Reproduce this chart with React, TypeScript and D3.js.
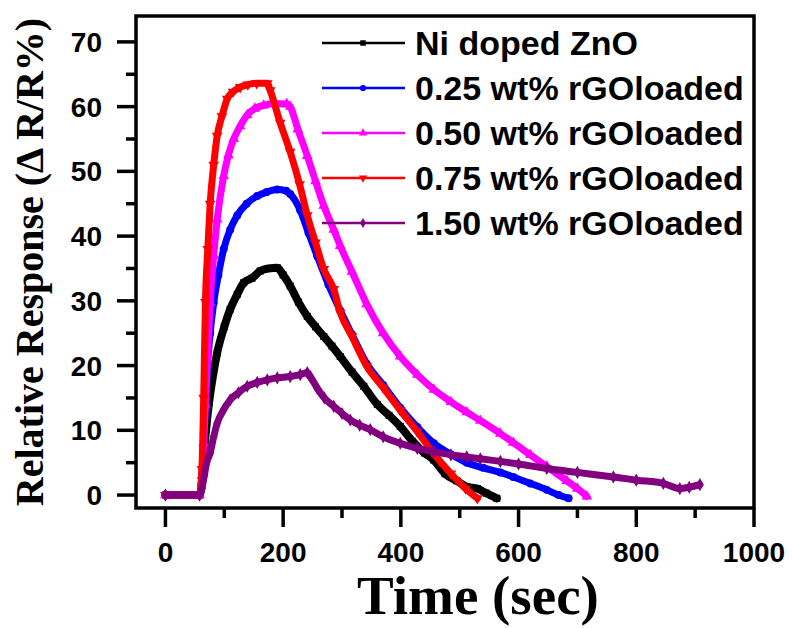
import React from "react";
import * as d3 from "d3";

const W = 793;
const H = 628;

const seriesNames = [
  "Ni doped ZnO",
  "0.25 wt% rGOloaded",
  "0.50 wt% rGOloaded",
  "0.75 wt% rGOloaded",
  "1.50 wt% rGOloaded",
];
const seriesColors = ["#000000", "#0000ff", "#ff00ff", "#ff0000", "#800080"];
const seriesMarkers = ["square", "circle", "triangleUp", "triangleDown", "diamond"];

const blackT = [0, 20, 40, 58, 62, 66, 70, 74, 80, 88, 100, 110, 122, 133, 147, 161, 175, 190, 200, 212, 226, 241, 255, 269, 283, 297, 317, 337, 360, 380, 399, 420, 440, 456, 475, 495, 512, 530, 545, 563];
const blackV = [0, 0, 0, 0, 2, 7, 11, 14.2, 18, 22, 26, 28.7, 31, 32.8, 33.5, 34.6, 35, 35.1, 34, 32.3, 29.8, 27.6, 26, 24.5, 23, 21.4, 19, 16.8, 14, 12.3, 10.6, 8.3, 6.5, 5.4, 3.3, 2.2, 1.3, 1, 0.3, -0.5];

const blueT = [0, 58, 62, 66, 71, 76, 82, 90, 99, 110, 122, 138, 156, 172, 190, 205, 212, 229, 243, 258, 277, 297, 317, 342, 370, 399, 428, 456, 485, 512, 540, 569, 591, 620, 648, 668, 685];
const blueV = [0, 0, 3, 10, 19.4, 25, 29.7, 34, 38, 41, 43.2, 45, 46.2, 46.8, 47.2, 47, 46.5, 44, 40.5, 36.9, 32.5, 28.5, 24.8, 20.3, 17, 13.5, 10.5, 8, 6.3, 5, 4.2, 3.5, 2.8, 1.8, 0.8, 0, -0.5];

const magentaT = [0, 58, 62, 65, 68, 72, 76, 82, 88, 99, 107, 116, 127, 139, 152, 167, 185, 206, 212, 225, 241, 255, 269, 286, 297, 317, 342, 370, 399, 428, 456, 485, 512, 535, 569, 591, 620, 648, 682, 700, 716];
const magentaV = [0, 0, 3, 8, 14, 22, 29.7, 37, 42.6, 49.3, 52.5, 55, 57, 58.7, 59.7, 60.2, 60.5, 60.4, 60, 56.5, 52.4, 48.5, 44.7, 41, 38.5, 34.5, 29.5, 25, 21.4, 18.6, 16.3, 14.4, 12.8, 11.5, 9.5, 8.1, 6.2, 4.4, 2.2, 1.0, -0.2];

const redT = [0, 58, 62, 65, 68, 72, 76, 82, 88, 96, 105, 115, 127, 140, 155, 173, 178, 195, 212, 228, 241, 255, 269, 286, 297, 317, 342, 370, 399, 428, 455, 485, 510, 530];
const redV = [0, 0, 4, 15, 29.8, 38, 45, 51, 55.5, 58.5, 61.2, 62.3, 63, 63.4, 63.6, 63.6, 62.5, 57.5, 53, 48, 43.2, 39, 34.9, 31.8, 28.2, 24.5, 19.9, 16.6, 13.1, 9.8, 6.5, 3.3, 1, -0.5];

const purpleT = [0, 58, 62, 66, 70, 76, 82, 88, 99, 110, 124, 139, 156, 173, 190, 212, 229, 241, 246, 258, 270, 286, 300, 314, 330, 348, 370, 399, 428, 456, 485, 512, 535, 569, 600, 648, 700, 761, 800, 846, 874, 890, 908];
const purpleV = [0, 0, 1, 3, 5, 6.5, 9, 11.1, 13.2, 14.7, 15.8, 16.8, 17.4, 17.8, 18.1, 18.3, 18.6, 18.9, 18.3, 16.5, 15, 13.7, 12.6, 11.6, 10.8, 10.1, 9, 8, 7.2, 6.7, 6.2, 5.9, 5.6, 5.2, 4.8, 4.1, 3.5, 2.8, 2.3, 1.8, 1.0, 1.2, 1.6];

const seriesT = [blackT, blueT, magentaT, redT, purpleT];
const seriesV = [blackV, blueV, magentaV, redV, purpleV];

const xMajorTicks = [0, 200, 400, 600, 800, 1000];
const xMinorTicks = [100, 300, 500, 700, 900];
const yMajorTicks = [0, 10, 20, 30, 40, 50, 60, 70];
const yMinorTicks = [5, 15, 25, 35, 45, 55, 65];

const xLabel = "Time (sec)";
const yLabel = "Relative Response (\u0394 R/R%)";

const L = 136, R = 754, T = 16, B = 508;
const x = d3.scaleLinear().domain([-50, 1000]).range([L, R]);
const y = d3.scaleLinear().domain([-2, 74]).range([B, T]);

const symbolFor: Record<string, d3.SymbolType> = {
  square: d3.symbolSquare,
  circle: d3.symbolCircle,
  triangleUp: d3.symbolTriangle,
  triangleDown: d3.symbolTriangle,
  diamond: d3.symbolDiamond,
};

function Marker({ kind, cx, cy, color, size }: { kind: string; cx: number; cy: number; color: string; size: number }) {
  const p = d3.symbol().type(symbolFor[kind]).size(size)() || "";
  const rot = kind === "triangleDown" ? 180 : 0;
  return <path d={p} transform={`translate(${cx},${cy}) rotate(${rot})`} fill={color} />;
}

export default function App() {
  const line = d3.line<[number, number]>().x((d) => x(d[0])).y((d) => y(d[1])).curve(d3.curveMonotoneX);
  const sans = "'Liberation Sans', Arial, sans-serif";
  const serif = "'Liberation Serif', 'Times New Roman', serif";
  return (
    <svg width={W} height={H} style={{ position: "absolute", left: 0, top: 0, background: "#fff" }}>
      <rect x={0} y={0} width={W} height={H} fill="#fff" />
      {seriesT.map((ts, i) => {
        const pts: [number, number][] = ts.map((t, j) => [t, seriesV[i][j]]);
        return (
          <g key={i}>
            <path d={line(pts) || ""} fill="none" stroke={seriesColors[i]} strokeWidth={i === 0 ? 8 : 7} strokeLinejoin="round" strokeLinecap="round" />
            {pts.map((p, j) => (
              <Marker key={j} kind={seriesMarkers[i]} cx={x(p[0])} cy={y(p[1])} color={seriesColors[i]} size={50} />
            ))}
          </g>
        );
      })}
      <rect x={L} y={T} width={R - L} height={B - T} fill="none" stroke="#000" strokeWidth={3.5} />
      {xMajorTicks.map((t) => (
        <g key={"xm" + t}>
          <line x1={x(t)} x2={x(t)} y1={B} y2={B + 19} stroke="#000" strokeWidth={3.5} />
          <text x={x(t)} y={562} textAnchor="middle" fontFamily={sans} fontWeight="bold" fontSize={28}>{t}</text>
        </g>
      ))}
      {xMinorTicks.map((t) => (
        <line key={"xn" + t} x1={x(t)} x2={x(t)} y1={B} y2={B + 10} stroke="#000" strokeWidth={3.5} />
      ))}
      {yMajorTicks.map((v) => (
        <g key={"ym" + v}>
          <line x1={L - 19} x2={L} y1={y(v)} y2={y(v)} stroke="#000" strokeWidth={3.5} />
          <text x={102} y={y(v)} dy="0.36em" textAnchor="end" fontFamily={sans} fontWeight="bold" fontSize={28}>{v}</text>
        </g>
      ))}
      {yMinorTicks.map((v) => (
        <line key={"yn" + v} x1={L - 10} x2={L} y1={y(v)} y2={y(v)} stroke="#000" strokeWidth={3.5} />
      ))}
      {seriesNames.map((n, i) => {
        const ly = 43 + i * 45;
        return (
          <g key={"lg" + i}>
            <line x1={322} x2={405} y1={ly} y2={ly} stroke={seriesColors[i]} strokeWidth={2.5} />
            <Marker kind={seriesMarkers[i]} cx={363} cy={ly} color={seriesColors[i]} size={30} />
            <text x={415} y={ly} dy="0.36em" fontFamily={sans} fontWeight="bold" fontSize={34}>{n}</text>
          </g>
        );
      })}
      <text x={478} y={614} textAnchor="middle" fontFamily={serif} fontWeight="bold" fontSize={55}>{xLabel}</text>
      <text transform="translate(43,262) rotate(-90)" textAnchor="middle" fontFamily={serif} fontWeight="bold" fontSize={40}>{yLabel}</text>
    </svg>
  );
}
